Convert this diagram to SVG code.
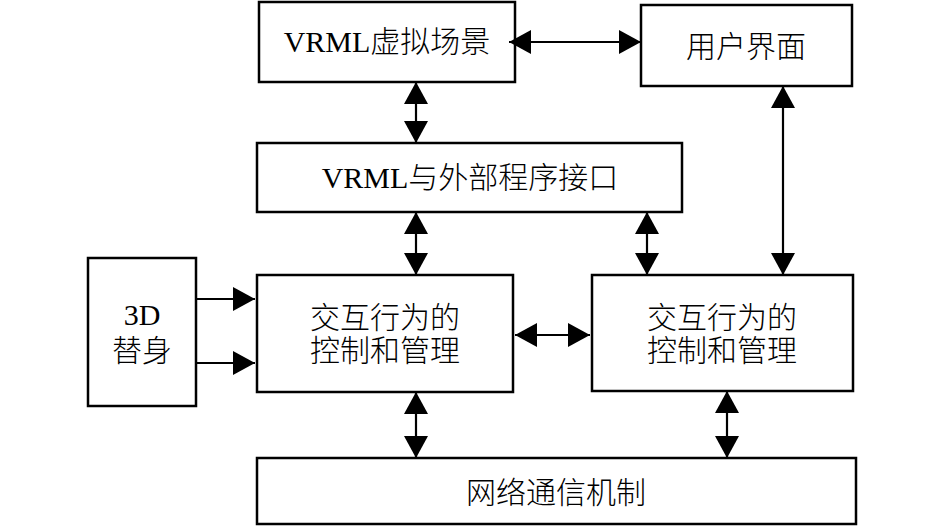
<svg xmlns="http://www.w3.org/2000/svg" width="945" height="527" viewBox="0 0 945 527">
<style>
.box{fill:#fff;stroke:#000;stroke-width:2.5}
.t{font-family:"Liberation Serif","Noto Sans CJK SC",serif;font-size:30px;font-weight:300;fill:#000;text-anchor:middle}
.c{stroke:#000;stroke-width:2.2;fill:none}
</style>
<defs>
<marker id="ah" markerUnits="userSpaceOnUse" markerWidth="22" markerHeight="24" refX="22" refY="12" orient="auto-start-reverse" viewBox="0 0 22 24">
<path d="M0,0 L22,12 L0,24 z" fill="#000"/>
</marker>
</defs>
<rect width="945" height="527" fill="#fff"/>
<g id="scene"><rect class="box" x="259" y="2" width="256" height="80"/><text class="t" x="387" y="52">VRML虚拟场景</text></g>
<g id="ui"><rect class="box" x="641" y="5" width="211" height="81"/><text class="t" x="746" y="57">用户界面</text></g>
<g id="iface"><rect class="box" x="257" y="143" width="425" height="69"/><text class="t" x="470" y="188">VRML与外部程序接口</text></g>
<g id="avatar"><rect class="box" x="88" y="258" width="108" height="148"/><text class="t" x="142" y="325">3D</text><text class="t" x="142" y="361">替身</text></g>
<g id="ctrl1"><rect class="box" x="257" y="275" width="256" height="117"/><text class="t" x="385" y="328">交互行为的</text><text class="t" x="385" y="361">控制和管理</text></g>
<g id="ctrl2"><rect class="box" x="592" y="275" width="261" height="116"/><text class="t" x="722" y="328">交互行为的</text><text class="t" x="722" y="361">控制和管理</text></g>
<g id="net"><rect class="box" x="257" y="458" width="599" height="66"/><text class="t" x="556" y="503">网络通信机制</text></g>
<g id="connectors" class="c">
<line x1="509" y1="42" x2="641" y2="42" marker-start="url(#ah)" marker-end="url(#ah)"/>
<line x1="416" y1="82" x2="416" y2="143" marker-start="url(#ah)" marker-end="url(#ah)"/>
<line x1="416" y1="212" x2="416" y2="275" marker-start="url(#ah)" marker-end="url(#ah)"/>
<line x1="647" y1="212" x2="647" y2="275" marker-start="url(#ah)" marker-end="url(#ah)"/>
<line x1="783" y1="86" x2="783" y2="275" marker-start="url(#ah)" marker-end="url(#ah)"/>
<line x1="196" y1="299" x2="255" y2="299" marker-end="url(#ah)"/>
<line x1="196" y1="363" x2="255" y2="363" marker-end="url(#ah)"/>
<line x1="515" y1="335" x2="590" y2="335" marker-start="url(#ah)" marker-end="url(#ah)"/>
<line x1="416" y1="392" x2="416" y2="458" marker-start="url(#ah)" marker-end="url(#ah)"/>
<line x1="727" y1="391" x2="727" y2="458" marker-start="url(#ah)" marker-end="url(#ah)"/>
</g>
</svg>
